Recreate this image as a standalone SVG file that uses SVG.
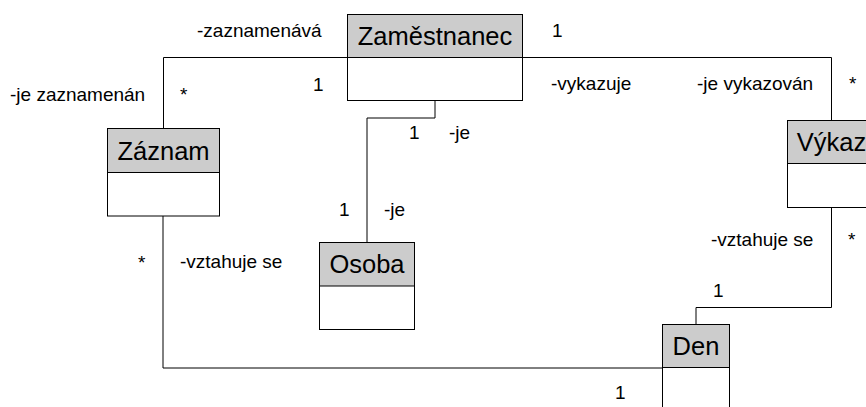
<svg xmlns="http://www.w3.org/2000/svg" width="866" height="407" viewBox="0 0 866 407">
<style>
.hd{fill:#cccccc;stroke:#000;stroke-width:1}
.bd{fill:#fff;stroke:#000;stroke-width:1}
.nm{font-family:"Liberation Sans",Arial,sans-serif;font-size:25.5px;fill:#000;text-anchor:middle}
.lb{font-family:"Liberation Sans",Arial,sans-serif;font-size:19px;fill:#000}
.ln{fill:none;stroke:#000;stroke-width:1}
</style>
<rect width="866" height="407" fill="#fff"/>
<g id="connectors">
<path class="ln" d="M163.5 129 V57.5 H348"/>
<path class="ln" d="M523 57.5 H831.5 V120"/>
<path class="ln" d="M831.5 207 V307.5 H696"/>
<path class="ln" d="M696 307.5 V324"/>
<path class="ln" d="M163 216 V368 H662"/>
<path class="ln" d="M435 101 V118 H367 V243"/>
</g>
<g id="labels">
<text class="lb" x="197" y="37">-zaznamenává</text>
<text class="lb" x="552" y="37">1</text>
<text class="lb" x="10" y="101">-je zaznamenán</text>
<text class="lb" x="180" y="101">*</text>
<text class="lb" x="313" y="91">1</text>
<text class="lb" x="551" y="90">-vykazuje</text>
<text class="lb" x="697" y="90">-je vykazován</text>
<text class="lb" x="849" y="90">*</text>
<text class="lb" x="409" y="139">1</text>
<text class="lb" x="449" y="139">-je</text>
<text class="lb" x="339" y="216">1</text>
<text class="lb" x="384" y="216">-je</text>
<text class="lb" x="138" y="269">*</text>
<text class="lb" x="180" y="268">-vztahuje se</text>
<text class="lb" x="711" y="246">-vztahuje se</text>
<text class="lb" x="848" y="246">*</text>
<text class="lb" x="713" y="297">1</text>
<text class="lb" x="615" y="399">1</text>
</g>
<g id="zamestnanec">
<rect class="bd" x="347.5" y="14.5" width="175" height="86"/>
<rect class="hd" x="347.5" y="14.5" width="175" height="43"/>
<text class="nm" x="435" y="44.8">Zaměstnanec</text>
</g>
<g id="zaznam">
<rect class="bd" x="107.5" y="128.5" width="112" height="87.5"/>
<rect class="hd" x="107.5" y="128.5" width="112" height="44"/>
<text class="nm" x="163.5" y="159.8">Záznam</text>
</g>
<g id="osoba">
<rect class="bd" x="319.5" y="242.5" width="95" height="87"/>
<rect class="hd" x="319.5" y="242.5" width="95" height="43.5"/>
<text class="nm" x="367" y="273.3">Osoba</text>
</g>
<g id="vykaz">
<rect class="bd" x="787.5" y="120.5" width="89" height="87"/>
<rect class="hd" x="787.5" y="120.5" width="89" height="43"/>
<text class="nm" x="831.5" y="150.7">Výkaz</text>
</g>
<g id="den">
<rect class="bd" x="662.5" y="324.5" width="67" height="87"/>
<rect class="hd" x="662.5" y="324.5" width="67" height="43"/>
<text class="nm" x="696" y="354.8">Den</text>
</g>
</svg>
